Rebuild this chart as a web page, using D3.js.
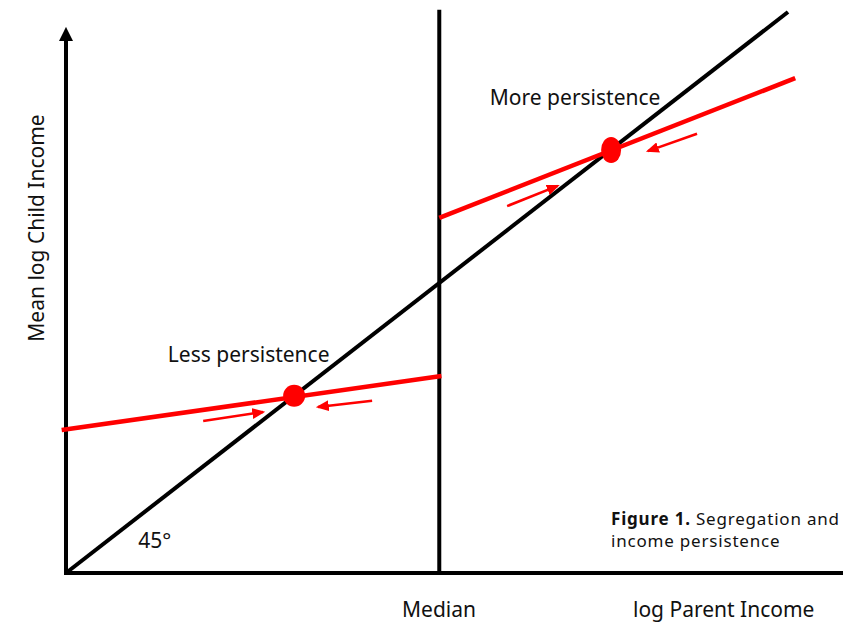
<!DOCTYPE html>
<html>
<head>
<meta charset="utf-8">
<script src="https://cdn.jsdelivr.net/npm/d3@7"></script>
<style>
  body { margin: 0; background: #fff; }
  text { font-family: "Noto Sans", "Open Sans", sans-serif; fill: #111; }
</style>
</head>
<body>
<svg id="chart" width="843" height="623"></svg>
<script>
// data units: the 45 degree line is y = x
const median = 5.17;
const diagonal = [[0, 0], [10, 10]];
const lessLine = [[-0.06, 2.55], [5.2, 3.51]];
const moreLine = [[5.17, 6.33], [10.1, 8.82]];
const equilibria = [
  { x: 3.16, y: 3.16, rx: 11, ry: 11 },
  { x: 7.55, y: 7.54, rx: 10, ry: 13 }
];
// small arrows pointing toward each fixed point
const arrows = [
  [[1.9, 2.71], [2.73, 2.87]],
  [[4.24, 3.07], [3.49, 2.96]],
  [[6.11, 6.54], [6.81, 6.9]],
  [[8.74, 7.83], [8.06, 7.52]]
];
const labels = [
  { text: "More persistence", x: 5.87, y: 8.35 },
  { text: "Less persistence", x: 1.41, y: 3.76 },
  { text: "45°", x: 1.0, y: 0.45 }
];

const svg = d3.select('#chart');
const x = d3.scaleLinear().domain([0, 10]).range([66, 788]);
const y = d3.scaleLinear().domain([0, 10]).range([573, 12]);
const line = d3.line().x(d => x(d[0])).y(d => y(d[1]));

const defs = svg.append('defs');
defs.append('marker')
    .attr('id', 'axis-head')
    .attr('viewBox', '0 0 14 14')
    .attr('refX', 2).attr('refY', 7)
    .attr('markerWidth', 14).attr('markerHeight', 14)
    .attr('markerUnits', 'userSpaceOnUse')
    .attr('orient', 'auto')
  .append('path')
    .attr('d', 'M0,0L14,7L0,14Z')
    .attr('fill', '#000');
defs.append('marker')
    .attr('id', 'red-head')
    .attr('viewBox', '0 0 12 10')
    .attr('refX', 10).attr('refY', 5)
    .attr('markerWidth', 13).attr('markerHeight', 11)
    .attr('markerUnits', 'userSpaceOnUse')
    .attr('orient', 'auto')
  .append('path')
    .attr('d', 'M0,0L12,5L0,10Z')
    .attr('fill', '#f00');

// axes
svg.append('path')
    .attr('d', line([[0, 0], [0, 9.52]]))
    .attr('stroke', '#000').attr('stroke-width', 4)
    .attr('marker-end', 'url(#axis-head)');
svg.append('path')
    .attr('d', `M${x(0) - 2},${y(0)}H843`)
    .attr('stroke', '#000').attr('stroke-width', 4);

// median line
svg.append('path')
    .attr('d', line([[median, 0], [median, 10.04]]))
    .attr('stroke', '#000').attr('stroke-width', 4);

// 45 degree line
svg.append('path')
    .attr('d', line(diagonal))
    .attr('stroke', '#000').attr('stroke-width', 4);

// red regression lines
svg.selectAll('path.red')
  .data([lessLine, moreLine])
  .join('path')
    .attr('class', 'red')
    .attr('d', line)
    .attr('stroke', '#f00').attr('stroke-width', 4.5).attr('fill', 'none');

svg.selectAll('path.arrow')
  .data(arrows)
  .join('path')
    .attr('class', 'arrow')
    .attr('d', line)
    .attr('stroke', '#f00').attr('stroke-width', 2.6)
    .attr('marker-end', 'url(#red-head)');

svg.selectAll('ellipse')
  .data(equilibria)
  .join('ellipse')
    .attr('cx', d => x(d.x)).attr('cy', d => y(d.y))
    .attr('rx', d => d.rx).attr('ry', d => d.ry)
    .attr('fill', '#f00');

svg.selectAll('text.lab')
  .data(labels)
  .join('text')
    .attr('class', 'lab')
    .attr('x', d => x(d.x)).attr('y', d => y(d.y))
    .style('font-size', '21px')
    .text(d => d.text);

// axis titles
svg.append('text')
    .attr('x', 439).attr('y', 617)
    .attr('text-anchor', 'middle')
    .style('font-size', '21px')
    .text('Median');
svg.append('text')
    .attr('x', 633).attr('y', 617)
    .style('font-size', '21px')
    .text('log Parent Income');
svg.append('text')
    .attr('transform', 'translate(44,228) rotate(-90)')
    .attr('text-anchor', 'middle')
    .style('font-size', '21px')
    .text('Mean log Child Income');

// caption
const cap = svg.append('text')
    .attr('x', 611).attr('y', 525)
    .style('font-size', '17px')
    .style('letter-spacing', '0.8px');
cap.append('tspan').style('font-weight', 'bold').text('Figure 1.');
cap.append('tspan').text(' Segregation and');
svg.append('text')
    .attr('x', 611).attr('y', 547)
    .style('font-size', '17px')
    .style('letter-spacing', '0.8px')
    .text('income persistence');
</script>
</body>
</html>
